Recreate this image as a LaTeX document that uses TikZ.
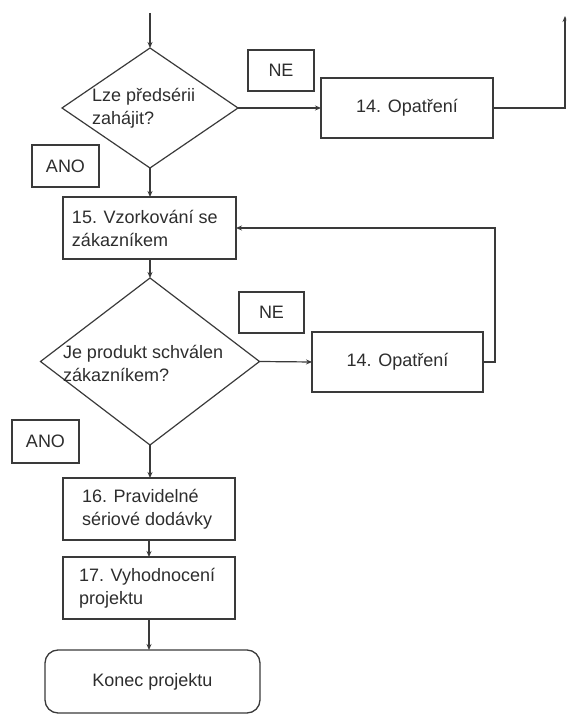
\documentclass[tikz,border=0pt]{standalone}
\usepackage{fontspec}
\setmainfont{Liberation Sans}
\usetikzlibrary{shapes.geometric,arrows.meta}
\definecolor{ink}{RGB}{58,58,58}
\definecolor{txt}{RGB}{45,45,45}
\begin{document}
\begin{tikzpicture}[x=1pt,y=1pt,
  every node/.style={font=\fontsize{18}{23}\selectfont, text=txt, inner sep=0pt, outer sep=0pt},
  box/.style={draw=ink, line width=1.3pt, rectangle, align=center},
  stepbox/.style 2 args={draw=ink, line width=1.3pt, rectangle, align=flush left,
    text width=#1, execute at begin node={\leftskip=#2\relax}},
  decision/.style={draw=ink, line width=1.2pt, diamond},
  qtext/.style={anchor=west, align=left},
  endbox/.style={draw=ink, line width=1.3pt, rectangle, rounded corners=13pt},
  flow/.style={draw=ink, line width=1.2pt, -{Stealth[length=6pt,width=5pt]}}]
\useasboundingbox (0,0) rectangle (566,715);
\clip (0,0) rectangle (566,715);

% entry and first decision
\coordinate (start) at (150,702);
\node[decision, minimum width=176, minimum height=120] (d1) at (150,607) {};
\node[qtext] (d1t) at (92,607) {Lze předsérii\\zahájit?};
\node[box, minimum width=66, minimum height=41] (ne1) at (281,644.5) {NE};
\node[box, minimum width=172, minimum height=60] (op1) at (407,607) {14. Opatření};
\coordinate (exit1) at (565,699);
\node[box, minimum width=67, minimum height=42] (ano1) at (65.5,549) {ANO};

% sampling with the customer
\node[stepbox={173pt}{9pt}, minimum height=62] (b15) at (149.5,487)
  {15. Vzorkování se\\zákazníkem};

% second decision
\node[decision, minimum width=219, minimum height=167] (d2) at (150,353.5) {};
\node[qtext] (d2t) at (63,352) {Je produkt schválen\\zákazníkem?};
\node[box, minimum width=65, minimum height=41] (ne2) at (271.5,402.5) {NE};
\node[box, minimum width=171, minimum height=60] (op2) at (397.5,353) {14. Opatření};
\node[box, minimum width=67, minimum height=43] (ano2) at (45.5,273.5) {ANO};

% series delivery and closing steps
\node[stepbox={172pt}{19pt}, minimum height=62] (b16) at (149,206)
  {16. Pravidelné\\sériové dodávky};
\node[stepbox={172pt}{16pt}, minimum height=62] (b17) at (149,127)
  {17. Vyhodnocení\\projektu};
\node[endbox, minimum width=215, minimum height=63] (end) at (152.5,33.5) {Konec projektu};

% connectors
\draw[flow] (start) -- (d1.north);
\draw[flow] (d1.east) -- (op1.west);
\draw[flow] (op1.east) -| (exit1);
\draw[flow] (d1.south) -- (d1.south |- b15.north);
\draw[flow] (b15.south -| d2.north) -- (d2.north);
\draw[flow] (d2.east) -- (op2.west);
\draw[flow] (op2.east) -- ++(12,0) |- (b15.east);
\draw[flow] (d2.south) -- (d2.south |- b16.north);
\draw[flow] (b16.south) -- (b17.north);
\draw[flow] (b17.south) -- (b17.south |- end.north);
\end{tikzpicture}
\end{document}
